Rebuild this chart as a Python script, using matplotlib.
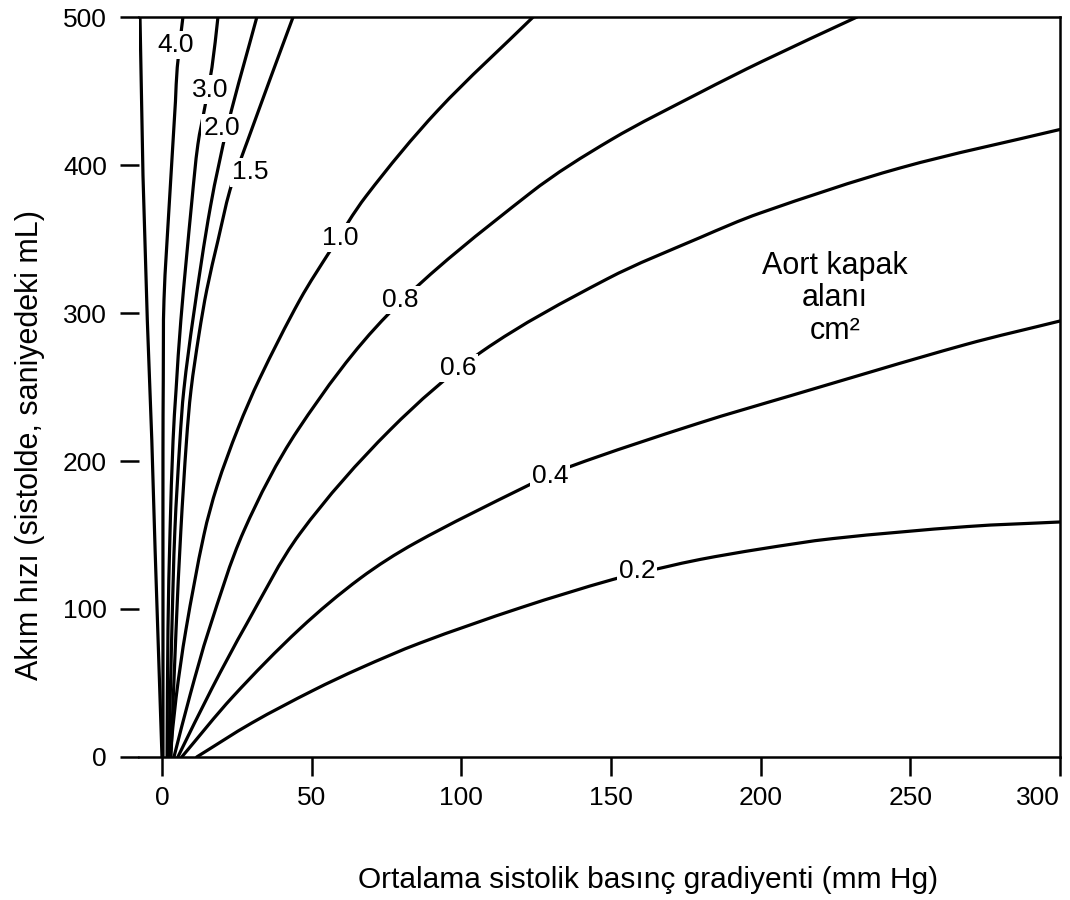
import matplotlib
matplotlib.use("Agg")
import numpy as np
import matplotlib.pyplot as plt
from matplotlib.path import Path
from matplotlib.patches import PathPatch

plt.rcParams['font.family'] = ['Liberation Sans', 'DejaVu Sans']

# ---- data: mean systolic gradient (mm Hg) vs flow (mL/s) ----
area_labels = ["4.0", "3.0", "2.0", "1.5", "1.0", "0.8", "0.6", "0.4", "0.2"]

grad_edge = [0.0, -2.3, -3.4, -4.9, -6.35, -7.35]
flow_edge = [0, 140, 214, 295, 393, 500]

grad_40 = [0.33, 0.33, 0.33, 0.43, 0.67, 2.5, 4.5, 5.1, 7.0]
flow_40 = [0, 106, 207, 255, 309, 376, 443, 466, 500]

grad_30 = [1.7, 2.0, 2.7, 3.7, 4.7, 6.3, 10.0, 12.0, 14.4, 16.7, 18.7]
flow_30 = [0, 86, 153, 214, 248, 295, 376, 414, 440, 466, 500]

grad_20 = [2.3, 3.3, 4.3, 6.0, 7.3, 10.5, 16.2, 22.1, 31.7]
flow_20 = [0, 86, 153, 214, 248, 298, 372, 428, 500]

grad_15 = [3.0, 4.7, 6.3, 8.2, 9.7, 12.4, 15.0, 18.7, 22.7, 26.7, 28.7, 36.1, 43.8]
flow_15 = [0, 86, 153, 214, 248, 286, 316, 349, 383, 406, 417, 458, 500]

grad_10 = [2.7, 4.7, 8.0, 14.0, 18.4, 25.4, 32.7, 46.1, 56.5, 68.2, 92.2, 124.0]
flow_10 = [0, 40, 86, 150, 183, 222, 256, 309, 343, 379, 437, 500]

grad_08 = [4.0, 9.4, 15.7, 27.4, 45.4, 75.5, 123.0, 150.0, 179.8, 200.5, 232.2]
flow_08 = [0, 42, 86, 153, 221, 299, 381, 417, 449, 470, 500]

grad_06 = [5.3, 16.6, 28.3, 46.1, 76.2, 106.9, 148.7, 179.8, 199.8, 246.6, 300.0]
flow_06 = [0, 46, 90, 151, 221, 274, 323, 351, 367.5, 398, 424]

grad_04 = [6.6, 23.7, 46.1, 66.2, 84.5, 121.3, 136.3, 179.1, 209.8, 268.3, 300.0]
flow_04 = [0, 40.8, 86.7, 120.7, 144.5, 182.5, 196.2, 225.4, 244.0, 278.6, 294.6]

grad_02 = [11.6, 30.0, 50.5, 66.2, 86.2, 120.0, 150.7, 167.4, 179.8, 199.8, 224.2, 269.0, 300.0]
flow_02 = [0, 23, 45, 60, 77, 101, 120, 128, 133.5, 140.5, 147.6, 155.7, 158.8]

# curve label anchor points (gradient, flow)
label_grad = [4.7, 16.0, 20.0, 29.4, 59.5, 79.5, 98.9, 129.6, 158.7]
label_flow = [481, 451, 425, 395, 351, 309, 263, 190, 125.5]

x_ticks = [0, 50, 100, 150, 200, 250, 300]
y_ticks = [0, 100, 200, 300, 400, 500]

curves = [(grad_40, flow_40), (grad_30, flow_30), (grad_20, flow_20), (grad_15, flow_15),
          (grad_10, flow_10), (grad_08, flow_08), (grad_06, flow_06), (grad_04, flow_04),
          (grad_02, flow_02)]


def smooth_path(gx, fy, sx=3.07, sy=1.48):
    """Smooth cubic Bezier path through the read points (chord-length tangents)."""
    P = np.column_stack([np.asarray(gx, float) * sx, np.asarray(fy, float) * sy])
    d = np.hypot(*np.diff(P, axis=0).T)
    t = np.concatenate([[0.0], np.cumsum(d)])
    n = len(P)
    m = np.zeros_like(P)
    m[0] = (P[1] - P[0]) / (t[1] - t[0])
    m[-1] = (P[-1] - P[-2]) / (t[-1] - t[-2])
    for i in range(1, n - 1):
        m[i] = (P[i + 1] - P[i - 1]) / (t[i + 1] - t[i - 1])
    verts = [P[0]]
    codes = [Path.MOVETO]
    for i in range(n - 1):
        h = t[i + 1] - t[i]
        verts += [P[i] + m[i] * h / 3, P[i + 1] - m[i + 1] * h / 3, P[i + 1]]
        codes += [Path.CURVE4] * 3
    verts = np.array(verts) / np.array([sx, sy])
    return Path(verts, codes)


# ---- figure ----
W, H = 1070, 900
fig = plt.figure(figsize=(W / 100, H / 100), dpi=100)
fig.patch.set_facecolor('white')
ax = fig.add_axes([139 / W, 1 - 757 / H, 921 / W, 740 / H])

lw = 2.3
ax.plot(grad_edge, flow_edge, color='black', lw=lw, solid_joinstyle='round', zorder=2)
for g, f in curves:
    ax.add_patch(PathPatch(smooth_path(g, f), facecolor='none', edgecolor='black',
                           lw=lw, capstyle='round', joinstyle='round', zorder=2))

for lab, gx, fy in zip(area_labels, label_grad, label_flow):
    ax.text(gx, fy, lab, fontsize=19, ha='center', va='center', zorder=4,
            bbox=dict(facecolor='white', edgecolor='none', pad=1.5))

ax.text(224.9, 310, "Aort kapak\nalanı\ncm²", fontsize=22, ha='center', va='center',
        linespacing=1.1, zorder=4)

ax.set_xlim(-7.68, 300)
ax.set_ylim(0, 500)
ax.set_xticks(x_ticks)
ax.set_yticks(y_ticks)
ax.tick_params(axis='both', direction='out', length=14, width=1.8, labelsize=19, color='black')
ax.tick_params(axis='x', pad=7)
ax.tick_params(axis='y', pad=9)
xt = ax.get_xticklabels()
xt[-1].set_horizontalalignment('right')
xt[-1].set_x(300)

for side in ['top', 'right', 'bottom']:
    ax.spines[side].set_linewidth(1.8)
    ax.spines[side].set_color('black')
ax.spines['left'].set_visible(False)

ax.set_xlabel("Ortalama sistolik basınç gradiyenti (mm Hg)", fontsize=21.5, va='center')
ax.xaxis.set_label_coords((648 - 139) / 921, (757 - 880) / 740)
ax.set_ylabel("Akım hızı (sistolde, saniyedeki mL)", fontsize=22, va='center')
ax.yaxis.set_label_coords((30 - 139) / 921, (757 - 445) / 740)

fig.savefig("out.png", dpi=100, facecolor='white')
